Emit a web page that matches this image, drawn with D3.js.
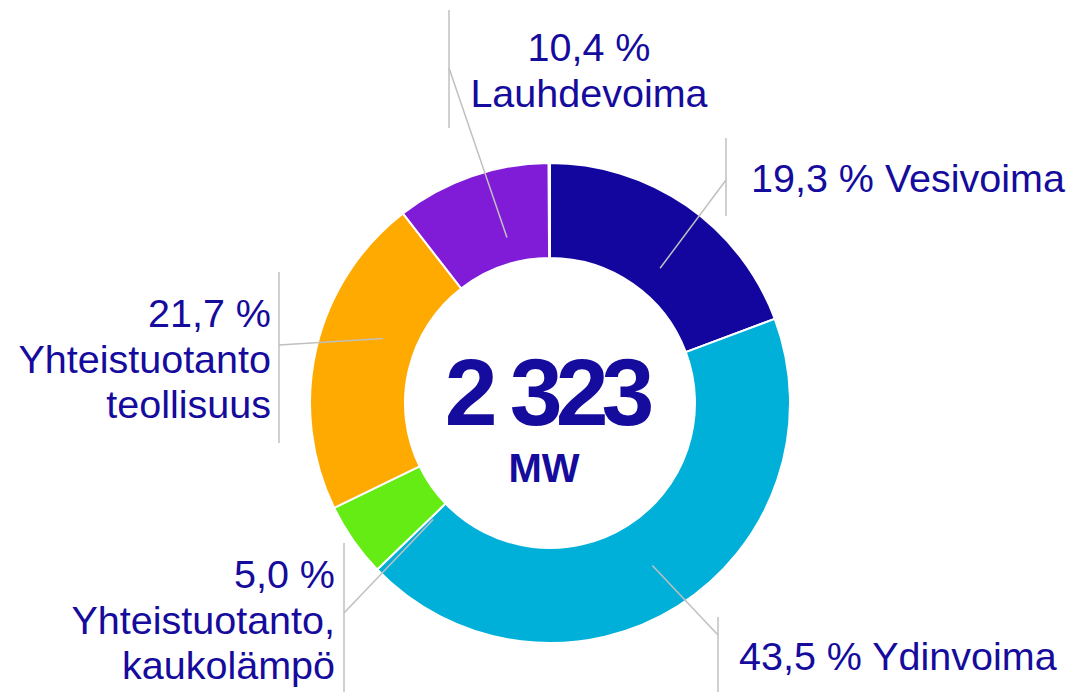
<!DOCTYPE html>
<html>
<head>
<meta charset="utf-8">
<script src="https://cdn.jsdelivr.net/npm/d3@7"></script>
<style>
  body { margin: 0; background: #fff; }
  text { font-family: "Liberation Sans", Arial, sans-serif; }
</style>
</head>
<body>
<svg width="1074" height="692"></svg>
<script>
// data
const categories = ["Vesivoima", "Ydinvoima", "Yhteistuotanto, kaukolämpö", "Yhteistuotanto teollisuus", "Lauhdevoima"];
const shares = [19.3, 43.5, 5.0, 21.7, 10.4];
const nameLines = [["Vesivoima"], ["Ydinvoima"], ["Yhteistuotanto,", "kaukolämpö"], ["Yhteistuotanto", "teollisuus"], ["Lauhdevoima"]];
const totalMW = 2323;
const unit = "MW";

const colors = ["#12069e", "#00b0d8", "#64ec14", "#ffaa00", "#801cd8"];
const textColor = "#150b9c";

// label placement (inline = percent and name on one line); nudge = degrees added to mid angle
const labelLayout = [
  { inline: true,  anchor: "start",  x: 751, y: 192, barX: 726, barY: [138, 216], kneeY: 180, nudge: 4.5,  r: 174 },
  { inline: true,  anchor: "start",  x: 739, y: 670, barX: 718, barY: [617, 692], kneeY: 635, nudge: 0,    r: 192 },
  { inline: false, anchor: "end",    x: 335, y: 588, barX: 344, barY: [543, 692], kneeY: 613, nudge: -10,  r: 165 },
  { inline: false, anchor: "end",    x: 271, y: 327, barX: 279, barY: [272, 443], kneeY: 345, nudge: 8,    r: 179 },
  { inline: false, anchor: "middle", x: 589, y: 61,  barX: 449, barY: [10, 128],  kneeY: 68,  nudge: 4.5,  r: 171 }
];

const cx = 550, cy = 403;
const outerR = 240, innerR = 145;
const lineGap = 45.5;

const svg = d3.select("svg");
const chart = svg.append("g").attr("transform", `translate(${cx}, ${cy})`);

const fi = d3.formatLocale({ decimal: ",", thousands: " ", grouping: [3], currency: ["", " €"] });
const pctFmt = fi.format(".1f");
const intFmt = fi.format(",");

const total = d3.sum(shares);
const pie = d3.pie()
  .sort(null)
  .value(d => d)
  .startAngle(0)
  .endAngle(2 * Math.PI * total / 100);

const arcs = pie(shares);

const arc = d3.arc().innerRadius(innerR).outerRadius(outerR);

chart.selectAll("path.slice")
  .data(arcs)
  .enter()
  .append("path")
  .attr("class", "slice")
  .attr("d", arc)
  .attr("fill", (d, i) => colors[i])
  .attr("stroke", "#fff")
  .attr("stroke-width", 2);

// leader lines
const leaders = svg.append("g")
  .attr("stroke", "#c0c0c0")
  .attr("stroke-width", 1.5)
  .attr("fill", "none");

arcs.forEach((d, i) => {
  const lay = labelLayout[i];
  const a = (d.startAngle + d.endAngle) / 2 + lay.nudge * Math.PI / 180;
  const ex = cx + lay.r * Math.sin(a);
  const ey = cy - lay.r * Math.cos(a);
  leaders.append("line")
    .attr("x1", lay.barX).attr("y1", lay.barY[0])
    .attr("x2", lay.barX).attr("y2", lay.barY[1]);
  leaders.append("line")
    .attr("x1", lay.barX).attr("y1", lay.kneeY)
    .attr("x2", ex).attr("y2", ey);
});

// labels
arcs.forEach((d, i) => {
  const lay = labelLayout[i];
  const pct = pctFmt(shares[i]) + " %";
  const lines = lay.inline ? [pct + " " + nameLines[i].join(" ")] : [pct].concat(nameLines[i]);
  const t = svg.append("text")
    .attr("x", lay.x)
    .attr("y", lay.y)
    .attr("text-anchor", lay.anchor)
    .attr("fill", textColor)
    .style("font-size", "39.5px");
  lines.forEach((l, j) => {
    t.append("tspan")
      .attr("x", lay.x)
      .attr("y", lay.y + j * lineGap)
      .text(l);
  });
});

// center total
svg.append("text")
  .attr("x", cx - 4)
  .attr("y", 425)
  .attr("text-anchor", "middle")
  .attr("fill", textColor)
  .style("font-size", "95px")
  .style("font-weight", "bold")
  .style("letter-spacing", "-7px")
  .text(intFmt(totalMW));

svg.append("text")
  .attr("x", 544)
  .attr("y", 482)
  .attr("text-anchor", "middle")
  .attr("fill", textColor)
  .style("font-size", "40px")
  .style("font-weight", "bold")
  .text(unit);
</script>
</body>
</html>
